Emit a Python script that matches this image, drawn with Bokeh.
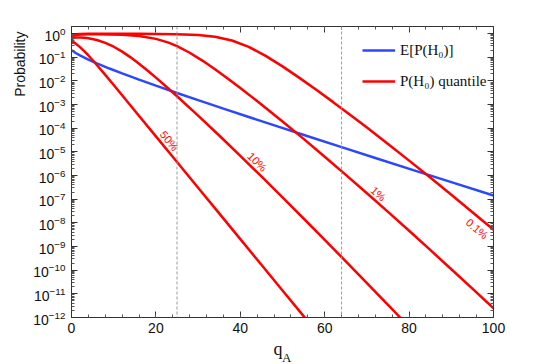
import numpy as np
from bokeh.plotting import figure
from bokeh.layouts import column
from bokeh.models import (Span, Label, Legend, LegendItem, LogAxis, LinearAxis, Title,
                          FixedTicker, SingleIntervalTicker, CustomJSTickFormatter)
from bokeh.core.properties import value
from bokeh.embed import file_html
from bokeh.resources import INLINE

# ---- data (log10 of probability) ----
q_blue = [0, 1, 2, 4, 6, 9, 12, 16, 20, 25, 30, 36, 42, 49, 56, 64, 72, 81, 90, 100]
lp_blue = [-0.70, -0.82, -0.92, -1.10, -1.258, -1.476, -1.682, -1.944, -2.198, -2.508, -2.812,
           -3.171, -3.525, -3.934, -4.340, -4.800, -5.258, -5.770, -6.279, -6.843]

q_50 = [0, 1, 2, 3, 4, 6, 8, 10, 15, 20, 25, 30, 35, 40, 45, 50, 55, 56]
lp_50 = [-0.301, -0.423, -0.570, -0.739, -0.924, -1.324, -1.745, -2.174, -3.258, -4.343,
         -5.429, -6.514, -7.600, -8.686, -9.772, -10.857, -11.943, -12.160]

q_10 = [0, 0.25, 0.5, 1, 2, 3, 4, 6, 8, 10, 12, 14, 16, 18, 20, 22, 25, 30, 35, 40, 45,
        50, 55, 60, 65, 70, 75, 78]
lp_10 = [-0.301, -0.203, -0.182, -0.164, -0.160, -0.172, -0.196, -0.272, -0.390, -0.554,
         -0.760, -1.003, -1.272, -1.560, -1.860, -2.170, -2.647, -3.466, -4.307, -5.166,
         -6.038, -6.922, -7.815, -8.717, -9.627, -10.543, -11.466, -12.022]

q_1 = [0, 0.25, 0.5, 1, 2, 4, 6, 9, 12, 16, 20, 23, 25, 28, 31, 34, 37, 40, 45, 50, 55,
       60, 65, 70, 75, 80, 85, 90, 95, 100]
lp_1 = [-0.301, -0.132, -0.096, -0.065, -0.042, -0.030, -0.028, -0.035, -0.052, -0.104,
        -0.222, -0.382, -0.529, -0.808, -1.139, -1.506, -1.895, -2.298, -2.995, -3.713,
        -4.450, -5.203, -5.969, -6.747, -7.536, -8.335, -9.143, -9.959, -10.782, -11.612]

q_01 = [0, 0.25, 0.5, 1, 2, 4, 9, 16, 25, 30, 34, 38, 42, 46, 50, 54, 58, 62, 66, 70, 75,
        80, 85, 90, 95, 100]
lp_01 = [-0.301, -0.094, -0.059, -0.031, -0.015, -0.007, -0.004, -0.006, -0.022, -0.059,
         -0.134, -0.290, -0.562, -0.940, -1.386, -1.870, -2.376, -2.896, -3.429, -3.972,
         -4.663, -5.368, -6.084, -6.811, -7.548, -8.294]

quantile_labels = ["50%", "10%", "1%", "0.1%"]
label_q = [23.2, 44.0, 72.7, 96.1]
label_lp = [-4.53, -5.42, -6.77, -8.25]
label_angle = [-0.88, -0.78, -0.72, -0.70]

vlines = [25, 64]
y_decades = list(range(0, -13, -1))

def pw(lst):
    return [10.0 ** v for v in lst]

RED = "#ff0000"
BLUE = "#2b48ff"
INK = "#111111"

W = 537
p = figure(width=W, height=338, y_axis_type="log", x_range=(0, 100), y_range=(1e-12, 2),
           output_backend="svg", toolbar_location=None,
           min_border_left=71, min_border_right=44, min_border_top=26, min_border_bottom=21)
p.xgrid.visible = False
p.ygrid.visible = False
p.outline_line_color = "#333333"

for xv in vlines:
    p.add_layout(Span(location=xv, dimension="height", line_color="#999999",
                      line_dash="3 2", line_width=1))

r_blue = p.line(q_blue, pw(lp_blue), line_color=BLUE, line_width=2.5)
r_50 = p.line(q_50, pw(lp_50), line_color=RED, line_width=2.5)
p.line(q_10, pw(lp_10), line_color=RED, line_width=2.5)
p.line(q_1, pw(lp_1), line_color=RED, line_width=2.5)
p.line(q_01, pw(lp_01), line_color=RED, line_width=2.5)

for t, xq, yl, a in zip(quantile_labels, label_q, label_lp, label_angle):
    p.add_layout(Label(x=xq, y=10.0 ** yl, text=t, angle=a, text_color=RED,
                       text_font="Liberation Sans", text_font_size="11px",
                       text_align="center", text_baseline="middle"))

minor = [m * 10.0 ** k for k in range(-12, 1) for m in range(2, 10) if m * 10.0 ** k < 2]
yticker = FixedTicker(ticks=[10.0 ** k for k in y_decades], minor_ticks=minor)
xticker = SingleIntervalTicker(interval=20, num_minor_ticks=5)

def style(ax):
    ax.major_tick_in = 6
    ax.major_tick_out = 0
    ax.minor_tick_in = 3
    ax.minor_tick_out = 0
    ax.axis_line_color = "#333333"
    ax.major_tick_line_color = "#333333"
    ax.minor_tick_line_color = "#555555"
    ax.major_label_text_font = "Liberation Sans"
    ax.major_label_text_font_size = "14px"
    ax.major_label_text_color = INK

p.yaxis.ticker = yticker
p.xaxis.ticker = xticker
style(p.xaxis[0])
style(p.yaxis[0])
p.xaxis.major_label_standoff = 5
p.yaxis.major_label_standoff = 6

blank = CustomJSTickFormatter(code="return ''")
top = LinearAxis(ticker=xticker, formatter=blank)
right = LogAxis(ticker=yticker, formatter=blank)
style(top)
style(right)
top.major_label_text_font_size = "0px"
right.major_label_text_font_size = "0px"
p.add_layout(top, "above")
p.add_layout(right, "right")

p.add_layout(Title(text="Probability", align="right", offset=5, standoff=6,
                   text_font="Liberation Sans", text_font_size="14px",
                   text_font_style="normal", text_color=INK), "left")

legend = Legend(items=[LegendItem(label="E[P(H₀)]", renderers=[r_blue]),
                       LegendItem(label="P(H₀) quantile", renderers=[r_50])],
                location=(291, 226), glyph_width=33, glyph_height=20, spacing=11,
                label_standoff=5, padding=0, margin=0,
                border_line_color=None, background_fill_alpha=0,
                label_text_font="Liberation Serif", label_text_font_size="15px",
                label_text_color=INK)
p.add_layout(legend)

# x-axis label q_A drawn in a thin strip under the plot
p2 = figure(width=W, height=25, x_range=p.x_range, y_range=(0, 25),
            output_backend="svg", toolbar_location=None,
            min_border_left=71, min_border_right=44, min_border_top=0, min_border_bottom=0)
p2.axis.visible = False
p2.grid.visible = False
p2.outline_line_color = None
p2.text(x=[50.0], y=[15], text=["q"], text_font=value("Liberation Serif"),
        text_font_size="18px", text_align="right", text_baseline="alphabetic", text_color=INK)
p2.text(x=[49.9], y=[6.5], text=["A"], text_font=value("Liberation Serif"),
        text_font_size="13px", text_align="left", text_baseline="alphabetic", text_color=INK)

layout = column(p, p2, spacing=0)
open("out.html", "w").write(file_html(layout, INLINE))
